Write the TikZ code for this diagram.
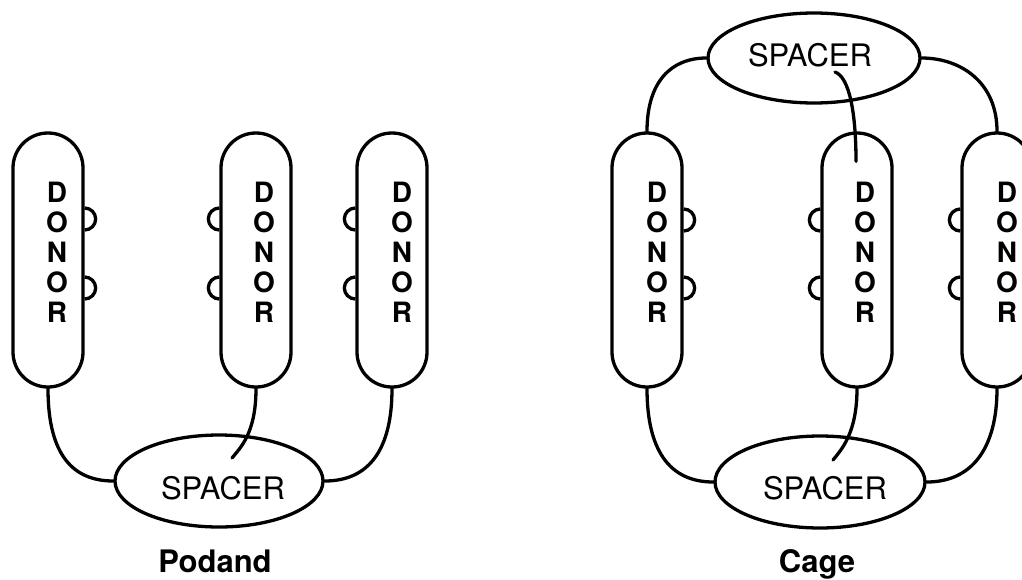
\documentclass[tikz,border=0pt]{standalone}
\usepackage{fontspec}
\setmainfont{TeX Gyre Heros}
\usetikzlibrary{shapes.geometric,calc}
\begin{document}
\begin{tikzpicture}[x=1pt,y=-1pt, line width=3.3pt,
  donorbox/.style={draw, rectangle, rounded corners=34.9pt, minimum width=70pt, minimum height=254pt, inner sep=0pt},
  spc/.style={draw, ellipse, inner sep=0pt},
  donortxt/.style={align=center, font=\bfseries\fontsize{28}{30}\selectfont, inner sep=0pt},
  spctxt/.style={font=\fontsize{31}{34}\selectfont, inner sep=0pt},
  ttl/.style={font=\bfseries\fontsize{31}{34}\selectfont, anchor=base, inner sep=0pt},
  link/.style={line cap=round}]
\useasboundingbox (0,0) rectangle (1022,579);

% ---------- Podand ----------
\node[donorbox] (d1) at (48,260) {};
\node[donorbox] (d2) at (256,260) {};
\node[donorbox] (d3) at (392,260) {};
\node[donortxt] (d1t) at (57,252) {D\\O\\N\\O\\R};
\node[donortxt] (d2t) at (264,252) {D\\O\\N\\O\\R};
\node[donortxt] (d3t) at (402,252) {D\\O\\N\\O\\R};
\node[spc, minimum width=208pt, minimum height=92pt] (s1) at (219,481) {};
\node[spctxt] (s1t) at (223,488) {SPACER};
\node[ttl] (podand) at (215,572) {Podand};

\foreach \d in {d1}{
  \draw ($(\d.east)+(0,-52)$) arc[start angle=90,end angle=-90,radius=11pt];
  \draw ($(\d.east)+(0,17)$) arc[start angle=90,end angle=-90,radius=11pt];
}
\foreach \d in {d2,d3}{
  \draw ($(\d.west)+(0,-52)$) arc[start angle=90,end angle=270,radius=11pt];
  \draw ($(\d.west)+(0,17)$) arc[start angle=90,end angle=270,radius=11pt];
}

\draw[link] (d1.south) .. controls +(0,60) and +(-45,0) .. (s1.west);
\draw[link] (d3.south) .. controls +(0,60) and +(45,0) .. (s1.east);
\coordinate (s1in) at ($(s1.center)+(13,-23)$);
\draw[link] (d2.south) .. controls +(0,45) and +(8,-10) .. (s1in);

% ---------- Cage ----------
\node[donorbox] (c1) at (647,260) {};
\node[donorbox] (c2) at (857,260) {};
\node[donorbox] (c3) at (997,260) {};
\node[donortxt] (c1t) at (657,252) {D\\O\\N\\O\\R};
\node[donortxt] (c2t) at (865,252) {D\\O\\N\\O\\R};
\node[donortxt] (c3t) at (1007,252) {D\\O\\N\\O\\R};
\node[spc, minimum width=212pt, minimum height=90pt] (t) at (814,58) {};
\node[spctxt] (tt) at (810,55) {SPACER};
\node[spc, minimum width=210pt, minimum height=92pt] (b) at (820,482) {};
\node[spctxt] (bt) at (825,488) {SPACER};
\node[ttl] (cage) at (817,572) {Cage};

\foreach \d in {c1}{
  \draw ($(\d.east)+(0,-51)$) arc[start angle=90,end angle=-90,radius=11pt];
  \draw ($(\d.east)+(0,17)$) arc[start angle=90,end angle=-90,radius=11pt];
}
\foreach \d in {c2,c3}{
  \draw ($(\d.west)+(0,-51)$) arc[start angle=90,end angle=270,radius=11pt];
  \draw ($(\d.west)+(0,17)$) arc[start angle=90,end angle=270,radius=11pt];
}

\draw[link] (c1.north) .. controls +(0,-50) and +(-35,0) .. (t.west);
\draw[link] (c3.north) .. controls +(0,-50) and +(38,0) .. (t.east);
\coordinate (tin) at ($(t.center)+(21,14)$);
\coordinate (c2in) at ($(c2.north)+(-1,30)$);
\draw[link] (tin) .. controls +(14,5) and +(0,-50) .. (c2in);

\draw[link] (c1.south) .. controls +(0,60) and +(-45,0) .. (b.west);
\draw[link] (c3.south) .. controls +(0,60) and +(45,0) .. (b.east);
\coordinate (bin) at ($(b.center)+(13,-22)$);
\draw[link] (c2.south) .. controls +(0,45) and +(8,-10) .. (bin);
\end{tikzpicture}
\end{document}
